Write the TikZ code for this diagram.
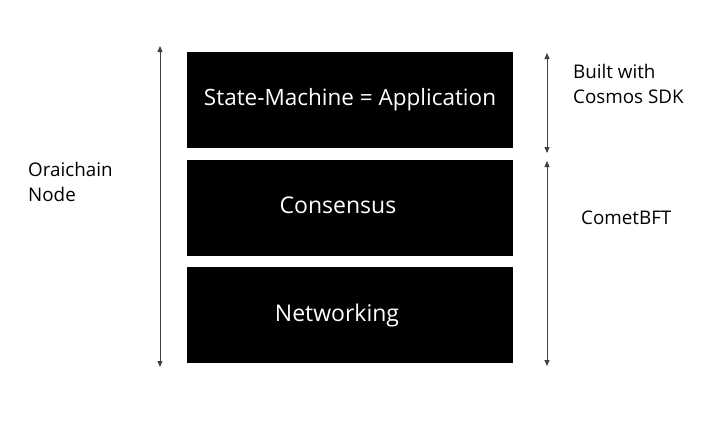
\documentclass[tikz,border=0pt]{standalone}
\usepackage{fontspec}
\setmainfont{Open Sans}
\usetikzlibrary{arrows.meta}
\begin{document}
\begin{tikzpicture}[x=1pt,y=-1pt,
  layer/.style={fill=black,draw=none,minimum width=326pt,minimum height=96pt,inner sep=0pt},
  ltext/.style={text=white,inner sep=0pt,font=\fontsize{23}{26}\selectfont},
  lbl/.style={font=\fontsize{18.8}{25}\selectfont,align=left,anchor=west,inner sep=0pt},
  span/.style={draw=black!75,line width=0.9pt,{Triangle[length=6pt,width=5pt]}-{Triangle[length=6pt,width=5pt]}}]
\useasboundingbox (0,0) rectangle (720,439);
\node[layer] (app) at (350,100) {};
\node[layer] (cons) at (350,208) {};
\node[layer] (net) at (350,315) {};
\node[ltext,font=\fontsize{22.5}{26}\selectfont] (appt) at (350,100) {State-Machine = Application};
\node[ltext] (const) at (338,205) {Consensus};
\node[ltext] (nett) at (337,316) {Networking};
\coordinate (lt) at (160,46);
\coordinate (lb) at (160,367);
\draw[span] (lt) -- (lb);
\coordinate (r1t) at (547,53);
\coordinate (r1b) at (547,153);
\draw[span] (r1t) -- (r1b);
\coordinate (r2t) at (547,161);
\coordinate (r2b) at (547,366);
\draw[span] (r2t) -- (r2b);
\node[lbl] (node) at (28,182) {Oraichain\\Node};
\node[lbl] (sdk) at (573,84) {Built with\\Cosmos SDK};
\node[lbl] (bft) at (581,218) {CometBFT};
\end{tikzpicture}
\end{document}
